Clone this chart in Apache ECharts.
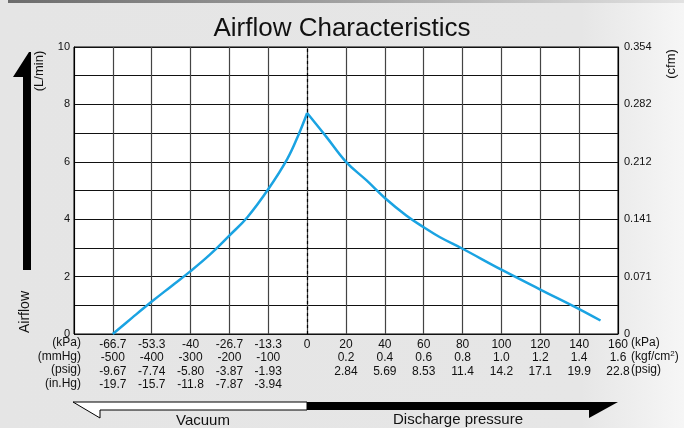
<!DOCTYPE html>
<html>
<head>
<meta charset="utf-8">
<script src="https://cdn.jsdelivr.net/npm/echarts@6/dist/echarts.min.js"></script>
<style>
html,body{margin:0;padding:0;}
body{width:684px;height:428px;background:linear-gradient(to right,#e5e5e5 0%,#e6e6e6 85%,#f6f6f6 100%);}
#c{width:684px;height:428px;}
</style>
</head>
<body>
<div id="c"></div>
<script>
// ---- Data ----
const kpaLabels = ['-66.7','-53.3','-40','-26.7','-13.3','0','20','40','60','80','100','120','140','160'];
const mmHgLabels = ['-500','-400','-300','-200','-100'];
const vacPsigLabels = ['-9.67','-7.74','-5.80','-3.87','-1.93'];
const inHgLabels = ['-19.7','-15.7','-11.8','-7.87','-3.94'];
const kgfLabels = ['0.2','0.4','0.6','0.8','1.0','1.2','1.4','1.6'];
const posPsigLabels = ['2.84','5.69','8.53','11.4','14.2','17.1','19.9','22.8'];
const cfmLabels = ['0','0.071','0.141','0.212','0.282','0.354'];

const vacuumKpa  = [-66.7, -60, -53.3, -46.8, -40, -33.1, -26.7, -20.5, -13.3, -6.8, -2.8, 0];
const vacuumFlow = [0, 0.57, 1.13, 1.65, 2.19, 2.79, 3.43, 4.07, 5.05, 6.1, 6.98, 7.7];
const dischargeKpa  = [0, 10, 20, 30.6, 40, 51, 60, 68.4, 80, 100, 120, 140, 151];
const dischargeFlow = [7.7, 6.86, 6.0, 5.35, 4.74, 4.13, 3.72, 3.37, 2.97, 2.24, 1.55, 0.87, 0.47];

// axis scale: vacuum side 13.33 kPa per division, discharge side 20 kPa per division, 0 kPa at division 6
function kpaToDiv(k){ return k < 0 ? 6 + k / (40/3) : 6 + k / 20; }

const vacData = vacuumKpa.map((k,i)=>[kpaToDiv(k), vacuumFlow[i]]);
const disData = dischargeKpa.map((k,i)=>[kpaToDiv(k), dischargeFlow[i]]);

const chart = echarts.init(document.getElementById('c'));
const FONT = '"Liberation Sans", Arial, Helvetica, sans-serif';
const txt = (x,y,text,opt,extra) => Object.assign({type:'text', x, y, silent:true,
  style: Object.assign({text, font: '12px '+FONT, fill:'#111', textAlign:'center', textVerticalAlign:'middle'}, opt||{})}, extra||{});
const ROT = {rotation: Math.PI/2};

chart.setOption({
  animation:false,
  backgroundColor:'transparent',
  title:{text:'Airflow Characteristics', left:'center', top:11,
    textStyle:{fontFamily:FONT, fontSize:26, fontWeight:'normal', color:'#111'}},
  grid:{left:74, right:66, top:47, bottom:94, show:true, backgroundColor:'#fff', borderColor:'#000', borderWidth:1},
  xAxis:{type:'value', min:0, max:14, interval:1,
    axisLine:{show:false}, axisTick:{show:false},
    splitLine:{show:true, lineStyle:{color:'#444', width:1.2}},
    axisLabel:{showMinLabel:true, showMaxLabel:true, margin:4, fontFamily:FONT, fontSize:12, color:'#111', lineHeight:13.4, align:'center',
      formatter:function(v){
        const i = Math.round(v);
        if(i===0) return '';
        if(i<=5) return [kpaLabels[i-1], mmHgLabels[i-1], vacPsigLabels[i-1], inHgLabels[i-1]].join('\n');
        if(i===6) return kpaLabels[5];
        return [kpaLabels[i-1], kgfLabels[i-7], posPsigLabels[i-7]].join('\n');
      }}},
  yAxis:[
    {type:'value', min:0, max:10, interval:1, position:'left',
      axisLine:{show:true, lineStyle:{color:'#000'}}, axisTick:{show:false},
      splitLine:{show:true, lineStyle:{color:'#111', width:1}},
      axisLabel:{margin:4, fontFamily:FONT, fontSize:11, color:'#111',
        formatter:v=> (Math.round(v)%2===0 ? String(v) : '')}},
    {type:'value', min:0, max:10, interval:1, position:'right',
      axisLine:{show:true, lineStyle:{color:'#000'}}, axisTick:{show:false}, splitLine:{show:false},
      axisLabel:{margin:6, fontFamily:FONT, fontSize:11, color:'#111',
        formatter:v=> (Math.round(v)%2===0 ? cfmLabels[Math.round(v)/2] : '')}}
  ],
  series:[
    {type:'line', data:vacData, smooth:0.4, symbol:'none',
      lineStyle:{color:'#1aa3e2', width:2.5}, z:5,
      markLine:{silent:true, symbol:'none', label:{show:false},
        lineStyle:{color:'#000', type:[3,3], width:1.2},
        data:[{xAxis: kpaToDiv(0)}]}},
    {type:'line', data:disData, smooth:0.4, symbol:'none',
      lineStyle:{color:'#1aa3e2', width:2.5}, z:5}
  ],
  graphic:[
    {type:'rect', silent:true, shape:{x:8,y:0,width:676,height:3},
      style:{fill:new echarts.graphic.LinearGradient(0,0,1,0,[{offset:0,color:'#6c6c6c'},{offset:0.5,color:'#a2a2a2'},{offset:1,color:'#e2e2e2'}])}},
    // vertical Airflow arrow
    {type:'polygon', silent:true, shape:{points:[[13,77],[29,52],[31,52],[31,270],[23,270],[23,77]]}, style:{fill:'#000'}},
    txt(25, 312, 'Airflow', {font:'14px '+FONT}, ROT),
    txt(39, 71, '(L/min)', {font:'13px '+FONT}, ROT),
    txt(671, 64, '(cfm)', {font:'13px '+FONT}, ROT),
    // unit labels
    txt(81, 343, '(kPa)', {textAlign:'right'}),
    txt(81, 356.5, '(mmHg)', {textAlign:'right'}),
    txt(81, 370, '(psig)', {textAlign:'right'}),
    txt(81, 383.5, '(in.Hg)', {textAlign:'right'}),
    txt(631, 343, '(kPa)', {textAlign:'left'}),
    {type:'text', x:631, y:356.5, silent:true, style:{text:'(kgf/cm{s|2})', font:'12px '+FONT, fill:'#111', textAlign:'left', textVerticalAlign:'middle',
      rich:{s:{fontSize:8, verticalAlign:'top', fontFamily:FONT, padding:[0,0,5,0]}}}},
    txt(631, 370, '(psig)', {textAlign:'left'}),
    // bottom arrows
    {type:'polygon', silent:true, shape:{points:[[73,402],[307,402],[307,410],[100,410],[100,418]]}, style:{fill:'#fff', stroke:'#000', lineWidth:1}},
    {type:'polygon', silent:true, shape:{points:[[307,402],[618,402],[589,418],[589,410],[307,410]]}, style:{fill:'#000'}},
    txt(203, 421, 'Vacuum', {font:'15px '+FONT}),
    txt(458, 420, 'Discharge pressure', {font:'15px '+FONT})
  ]
});
</script>
</body>
</html>
